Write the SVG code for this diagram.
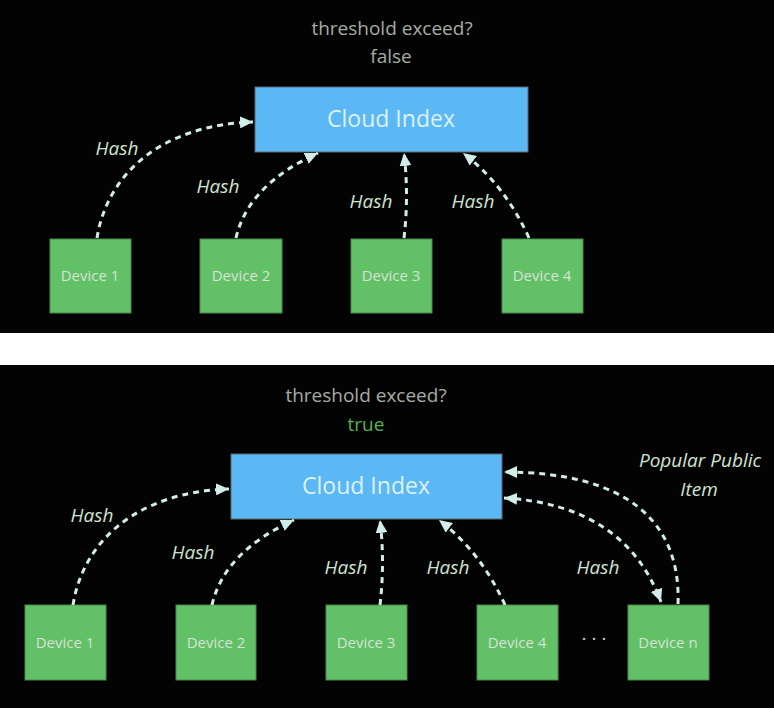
<svg xmlns="http://www.w3.org/2000/svg" width="774" height="708" viewBox="0 0 774 708">
<style>
.bg{fill:#030303}
.cloud{fill:#5bb8f5;stroke:#5a6a70;stroke-width:1}
.dev{fill:#62c066;stroke:#4a8a4c;stroke-width:1}
.ct{font-family:"Open Sans","Liberation Sans",sans-serif;font-size:23px;fill:#dcf2f2;text-anchor:middle}
.dt{font-family:"Open Sans","Liberation Sans",sans-serif;font-size:15px;fill:#d6e2d6;text-anchor:middle}
.hl{font-family:"Open Sans","Liberation Sans",sans-serif;font-size:19px;font-style:italic;fill:#cfe3d2;text-anchor:middle}
.th{font-family:"Open Sans","Liberation Sans",sans-serif;font-size:19px;fill:#a4ada4;text-anchor:middle}
.tr{font-family:"Open Sans","Liberation Sans",sans-serif;font-size:19px;fill:#52b454;text-anchor:middle}
.dots{font-family:"Open Sans","Liberation Sans",sans-serif;font-size:19px;fill:#c8d4c8;text-anchor:middle}
.c{fill:none;stroke:#d2ecea;stroke-width:3;stroke-dasharray:6 5}
</style>
<defs>
<marker id="ah" markerUnits="userSpaceOnUse" markerWidth="14" markerHeight="12" refX="13" refY="6" orient="auto-start-reverse">
<path d="M0,0 L13,6 L0,12 Z" fill="#d2ecea"/>
</marker>
</defs>
<rect class="bg" x="0" y="0" width="774" height="333"/>
<rect x="0" y="333" width="774" height="32" fill="#ffffff"/>
<rect class="bg" x="0" y="365" width="774" height="343"/>

<g id="top-labels">
<text class="th" x="392" y="35">threshold exceed?</text>
<text class="th" x="391" y="63">false</text>
</g>
<g id="top-cloud">
<rect class="cloud" x="255" y="87" width="273" height="65"/>
<text class="ct" x="391" y="127">Cloud Index</text>
</g>
<g id="top-dev1"><rect class="dev" x="50" y="239" width="81" height="74"/><text class="dt" x="90" y="281">Device 1</text></g>
<g id="top-dev2"><rect class="dev" x="200" y="239" width="82" height="74"/><text class="dt" x="241" y="281">Device 2</text></g>
<g id="top-dev3"><rect class="dev" x="351" y="239" width="81" height="74"/><text class="dt" x="391" y="281">Device 3</text></g>
<g id="top-dev4"><rect class="dev" x="502" y="239" width="81" height="74"/><text class="dt" x="542" y="281">Device 4</text></g>

<g id="top-connectors">
<path class="c" d="M97,238 C107,175 160,125 253,122" marker-end="url(#ah)"/>
<path class="c" d="M236,238 Q248,185 318,153" marker-end="url(#ah)"/>
<path class="c" d="M404,238 Q409,195 404,153" marker-end="url(#ah)"/>
<path class="c" d="M529,238 Q505,185 463,153" marker-end="url(#ah)"/>
<text class="hl" x="117" y="155">Hash</text>
<text class="hl" x="218" y="193">Hash</text>
<text class="hl" x="371" y="208">Hash</text>
<text class="hl" x="473" y="208">Hash</text>
</g>

<g id="bottom-labels">
<text class="th" x="366" y="402">threshold exceed?</text>
<text class="tr" x="366" y="431">true</text>
<text class="dots" x="594" y="640">. . .</text>
</g>
<g id="bottom-cloud">
<rect class="cloud" x="231" y="454" width="271" height="65"/>
<text class="ct" x="366" y="494">Cloud Index</text>
</g>
<g id="bot-dev1"><rect class="dev" x="25" y="605" width="81" height="75"/><text class="dt" x="65" y="648">Device 1</text></g>
<g id="bot-dev2"><rect class="dev" x="176" y="605" width="80" height="75"/><text class="dt" x="216" y="648">Device 2</text></g>
<g id="bot-dev3"><rect class="dev" x="326" y="605" width="81" height="75"/><text class="dt" x="366" y="648">Device 3</text></g>
<g id="bot-dev4"><rect class="dev" x="477" y="605" width="81" height="75"/><text class="dt" x="517" y="648">Device 4</text></g>
<g id="bot-devn"><rect class="dev" x="628" y="605" width="81" height="75"/><text class="dt" x="668" y="648">Device n</text></g>

<g id="bottom-connectors">
<path class="c" d="M73,605 C83,542 136,492 229,489" marker-end="url(#ah)"/>
<path class="c" d="M212,605 Q224,552 294,520" marker-end="url(#ah)"/>
<path class="c" d="M380,605 Q385,562 380,520" marker-end="url(#ah)"/>
<path class="c" d="M505,605 Q481,552 439,520" marker-end="url(#ah)"/>
<path class="c" d="M678,604 C681,520 625,472 504,472" marker-end="url(#ah)"/>
<path class="c" d="M504,498 Q625,505 661,602" marker-start="url(#ah)" marker-end="url(#ah)"/>
<text class="hl" x="92" y="522">Hash</text>
<text class="hl" x="193" y="559">Hash</text>
<text class="hl" x="346" y="574">Hash</text>
<text class="hl" x="448" y="574">Hash</text>
<text class="hl" x="598" y="574">Hash</text>
<text class="hl" x="700" y="467">Popular Public</text>
<text class="hl" x="699" y="496">Item</text>
</g>
</svg>
